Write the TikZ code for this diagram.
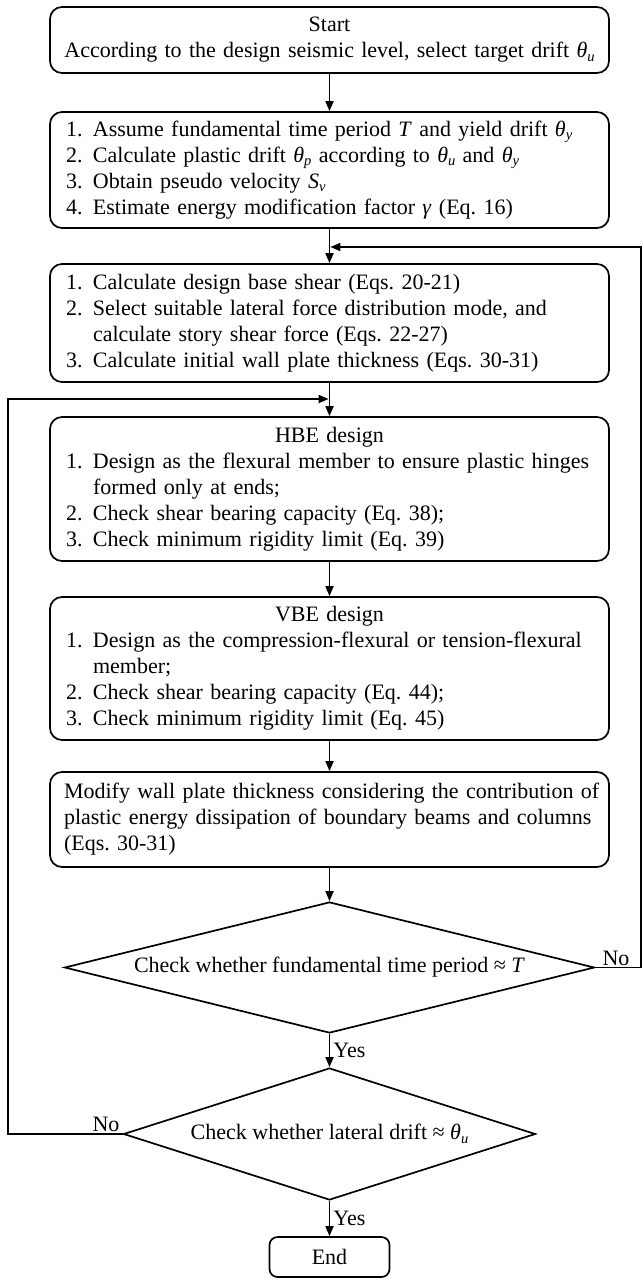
\documentclass[tikz,border=0pt]{standalone}
\usepackage{fontspec}
\setmainfont{Liberation Serif}
\usetikzlibrary{arrows.meta,shapes.geometric}
\frenchspacing

% italic index set low and small, for symbols such as theta_u
\newcommand\lowidx[1]{\raisebox{-0.35ex}{\fontsize{14.5}{15}\selectfont\textit{#1}}}
% one numbered line, a continuation line, a plain line and a centred heading
\newcommand\numline[2]{\hspace*{16pt}\makebox[27pt][l]{#1}\mbox{#2}}
\newcommand\contline[1]{\hspace*{43pt}\mbox{#1}}
\newcommand\plainline[1]{\hspace*{14pt}\mbox{#1}}
\newcommand\headline[1]{\makebox[559pt]{#1}}

\begin{document}
\begin{tikzpicture}[x=1pt,y=-1pt,
  every node/.style={font=\fontsize{22}{26}\selectfont},
  stepbox/.style={draw,rounded corners=12pt,line width=1.7pt,text width=559pt,
    inner xsep=0pt,inner ysep=0pt,align=left},
  decision/.style={draw,diamond,aspect=4,inner sep=0pt,line width=1.7pt,align=center},
  endbox/.style={draw,rounded corners=8pt,line width=1.7pt,minimum width=120pt,
    minimum height=40pt,inner sep=0pt},
  flow/.style={line width=1.7pt,-{Triangle[length=10pt,width=8pt]}},
  lbl/.style={inner sep=0pt}]
\useasboundingbox (0,0) rectangle (643,1280);

% process boxes
\node[stepbox,align=center,minimum height=66pt] (b1) at (329.5,40)
  {Start\\According to the design seismic level, select target drift \textit{θ}\lowidx{u}};

\node[stepbox,minimum height=116pt] (b2) at (329.5,170)
  {\numline{1.}{Assume fundamental time period \textit{T} and yield drift \textit{θ}\lowidx{y}}\\
   \numline{2.}{Calculate plastic drift \textit{θ}\lowidx{p} according to \textit{θ}\lowidx{u} and \textit{θ}\lowidx{y}}\\
   \numline{3.}{Obtain pseudo velocity \textit{S}\lowidx{v}}\\
   \numline{4.}{Estimate energy modification factor \textit{γ} (Eq. 16)}};

\node[stepbox,minimum height=118pt] (b3) at (329.5,323)
  {\numline{1.}{Calculate design base shear (Eqs. 20-21)}\\
   \numline{2.}{Select suitable lateral force distribution mode, and}\\
   \contline{calculate story shear force (Eqs. 22-27)}\\
   \numline{3.}{Calculate initial wall plate thickness (Eqs. 30-31)}};

\node[stepbox,minimum height=144pt] (hbe) at (329.5,489)
  {\headline{HBE design}\\
   \numline{1.}{Design as the flexural member to ensure plastic hinges}\\
   \contline{formed only at ends;}\\
   \numline{2.}{Check shear bearing capacity (Eq. 38);}\\
   \numline{3.}{Check minimum rigidity limit (Eq. 39)}};

\node[stepbox,minimum height=143pt] (vbe) at (329.5,668.5)
  {\headline{VBE design}\\
   \numline{1.}{Design as the compression-flexural or tension-flexural}\\
   \contline{member;}\\
   \numline{2.}{Check shear bearing capacity (Eq. 44);}\\
   \numline{3.}{Check minimum rigidity limit (Eq. 45)}};

\node[stepbox,minimum height=95pt] (mod) at (329.5,819.5)
  {\plainline{Modify wall plate thickness considering the contribution of}\\
   \plainline{plastic energy dissipation of boundary beams and columns}\\
   \plainline{(Eqs. 30-31)}};

% decisions and end
\node[decision,minimum width=530pt,minimum height=131pt] (d1) at (329.5,967.5)
  {Check whether fundamental time period ≈ \textit{T}};
\node[decision,minimum width=412pt,minimum height=132pt] (d2) at (329.5,1134)
  {Check whether lateral drift ≈ \textit{θ}\lowidx{u}};
\node[endbox] (fin) at (329.5,1257) {End};

% main flow
\draw[flow] (b1) -- (b2);
\draw[flow] (b2) -- (b3);
\draw[flow] (b3) -- (hbe);
\draw[flow] (hbe) -- (vbe);
\draw[flow] (vbe) -- (mod);
\draw[flow] (mod) -- (d1);
\draw[flow] (d1) -- node[lbl,anchor=west,xshift=3pt] (yes1) {Yes} (d2);
\draw[flow] (d2) -- node[lbl,anchor=west,xshift=3pt] (yes2) {Yes} (fin);

% loop back when the period differs from T
\coordinate (rtop) at (641,247);
\coordinate (jtop) at (330.4,247);
\draw[flow] (d1.east) -- (d1.east -| rtop) -- (rtop) -- (jtop);
\node[lbl,anchor=south west] (no1) at ([xshift=7pt,yshift=2pt]d1.east) {No};

% loop back when the drift differs from theta_u
\coordinate (lbot) at (8,399);
\coordinate (jbot) at (328.6,399);
\draw[flow] (d2.west) -- (d2.west -| lbot) -- (lbot) -- (jbot);
\node[lbl,anchor=south east] (no2) at ([xshift=-3pt,yshift=2pt]d2.west) {No};
\end{tikzpicture}
\end{document}
